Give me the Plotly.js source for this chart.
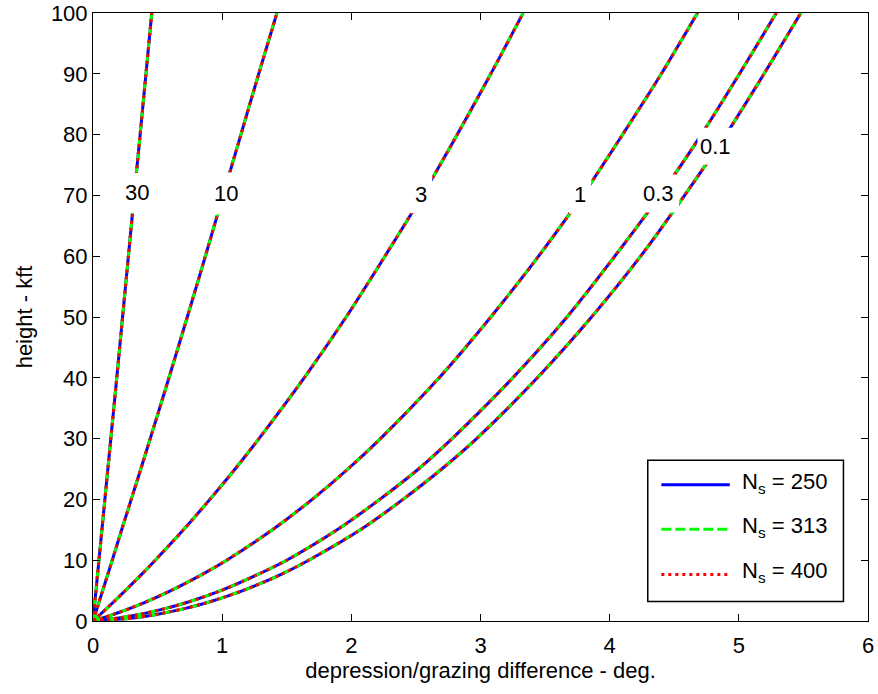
<!DOCTYPE html>
<html>
<head>
<meta charset="utf-8">
<script src="https://cdn.plot.ly/plotly-3.0.1.min.js"></script>
<style>
  html, body { margin: 0; padding: 0; background: #ffffff; }
  #chart { width: 878px; height: 694px; }
</style>
</head>
<body>
<div id="chart"></div>
<script>
// ---- data ----
// height (kft) sample points shared by every curve
const heights = [0, 0.5, 1, 2, 3, 5, 7.5, 10, 15, 20, 25, 30, 40, 50, 60, 70, 80, 90, 100];
// depression/grazing difference (deg.) for each grazing-angle curve
const diffAngle30  = [0, 0.0023, 0.0046, 0.0092, 0.0138, 0.023, 0.0345, 0.046, 0.069, 0.092, 0.115, 0.138, 0.184, 0.229, 0.274, 0.319, 0.365, 0.41, 0.455];
const diffAngle10  = [0, 0.0076, 0.015, 0.03, 0.045, 0.075, 0.112, 0.149, 0.222, 0.296, 0.37, 0.443, 0.588, 0.73, 0.87, 1.007, 1.145, 1.283, 1.424];
const diffAngle3   = [0, 0.026, 0.052, 0.103, 0.153, 0.25, 0.368, 0.482, 0.70, 0.905, 1.10, 1.285, 1.635, 1.96, 2.26, 2.55, 2.82, 3.08, 3.33];
const diffAngle1   = [0, 0.076, 0.146, 0.276, 0.394, 0.603, 0.832, 1.035, 1.389, 1.697, 1.974, 2.226, 2.68, 3.08, 3.45, 3.79, 4.10, 4.40, 4.68];
const diffAngle03  = [0, 0.20, 0.34, 0.55, 0.72, 0.99, 1.26, 1.50, 1.89, 2.22, 2.52, 2.78, 3.25, 3.67, 4.04, 4.39, 4.71, 5.005, 5.29];
const diffAngle01  = [0, 0.31, 0.47, 0.70, 0.88, 1.16, 1.44, 1.67, 2.07, 2.40, 2.70, 2.97, 3.44, 3.86, 4.24, 4.58, 4.90, 5.195, 5.48];
const curveLabels  = ['30', '10', '3', '1', '0.3', '0.1'];
const curveDiffs   = [diffAngle30, diffAngle10, diffAngle3, diffAngle1, diffAngle03, diffAngle01];
// refractivity values of the three series
const nsValues = [250, 313, 400];
const xTicks = [0, 1, 2, 3, 4, 5, 6];
const yTicks = [0, 10, 20, 30, 40, 50, 60, 70, 80, 90, 100];

// ---- styling ----
const FONT = 'Arial, "Liberation Sans", Helvetica, sans-serif';
const FS = 22;
const seriesStyles = [
  {color: 'rgb(0,0,255)', dash: 'solid'},
  {color: 'rgb(0,255,0)', dash: '10px,4px'},
  {color: 'rgb(255,0,0)', dash: '3px,4px'}
];
const LW = 3;
const PX_PER_X = 775 / 6;   // plot width / x-range
const PX_PER_Y = 608 / 100; // plot height / y-range

const traces = [];
nsValues.forEach(function (ns, si) {
  curveDiffs.forEach(function (xs, ci) {
    traces.push({
      type: 'scatter', mode: 'lines',
      x: xs, y: heights,
      name: 'N_s = ' + ns + ' (' + curveLabels[ci] + ')',
      showlegend: false, hoverinfo: 'skip',
      line: {color: seriesStyles[si].color, dash: seriesStyles[si].dash, width: LW, shape: 'spline', smoothing: 0.8}
    });
  });
});

// contour-style labels; white boxes break the lines behind them
const labelPos = [
  {x: 0.341, y: 70.4, w: 34, h: 40},
  {x: 1.027, y: 70.3, w: 34, h: 42},
  {x: 2.541, y: 70.2, w: 22, h: 38},
  {x: 3.771, y: 70.1, w: 22, h: 38},
  {x: 4.376, y: 70.3, w: 42, h: 38},
  {x: 4.819, y: 78.1, w: 36, h: 37}
];
const shapes = [];
const annotations = [];
curveLabels.forEach(function (lab, i) {
  const p = labelPos[i];
  const hx = p.w / 2 / PX_PER_X, hy = p.h / 2 / PX_PER_Y;
  shapes.push({
    type: 'rect', xref: 'x', yref: 'y', x0: p.x - hx, x1: p.x + hx, y0: p.y - hy, y1: p.y + hy,
    fillcolor: '#ffffff', line: {width: 0}, layer: 'above'
  });
  annotations.push({
    x: p.x, y: p.y, xref: 'x', yref: 'y', text: lab, showarrow: false,
    xanchor: 'center', yanchor: 'middle',
    font: {family: FONT, size: FS, color: '#000000'}
  });
});

// manual legend (MATLAB style) in data coordinates
const legendRows = [22.43, 15.07, 7.66];
shapes.push({
  type: 'rect', xref: 'x', yref: 'y', x0: 4.295, x1: 5.81, y0: 3.21, y1: 26.43,
  fillcolor: '#ffffff', line: {color: '#000000', width: 1.5}, layer: 'above'
});
nsValues.forEach(function (ns, si) {
  shapes.push({
    type: 'line', xref: 'x', yref: 'y', x0: 4.40, x1: 4.93, y0: legendRows[si], y1: legendRows[si],
    line: {color: seriesStyles[si].color, dash: seriesStyles[si].dash, width: 3}, layer: 'above'
  });
  annotations.push({
    x: 5.01, y: legendRows[si] + 0.35, xref: 'x', yref: 'y', showarrow: false,
    xanchor: 'left', yanchor: 'middle',
    text: 'N<sub>s</sub> = ' + ns,
    font: {family: FONT, size: FS, color: '#000000'}
  });
});

const axisCommon = {
  showgrid: false, zeroline: false, showline: true, linecolor: '#000000', linewidth: 1,
  mirror: 'ticks', ticks: 'inside', ticklen: 7, tickcolor: '#000000', tickwidth: 1,
  tickfont: {family: FONT, size: FS, color: '#000000'}
};

const layout = {
  width: 878, height: 694,
  paper_bgcolor: '#ffffff', plot_bgcolor: '#ffffff',
  margin: {l: 93, r: 10, t: 13, b: 73},
  showlegend: false,
  xaxis: Object.assign({}, axisCommon, {
    range: [0, 6], tickvals: xTicks, ticktext: xTicks.map(String),
    ticklabelstandoff: 5,
    title: {text: 'depression/grazing difference - deg.', font: {family: FONT, size: FS, color: '#000000'}, standoff: 4}
  }),
  yaxis: Object.assign({}, axisCommon, {
    range: [0, 100], tickvals: yTicks, ticktext: yTicks.map(String),
    title: {text: 'height - kft', font: {family: FONT, size: FS, color: '#000000'}, standoff: 12}
  }),
  annotations: annotations,
  shapes: shapes
};

Plotly.newPlot('chart', traces, layout, {staticPlot: true, displayModeBar: false});
</script>
</body>
</html>
